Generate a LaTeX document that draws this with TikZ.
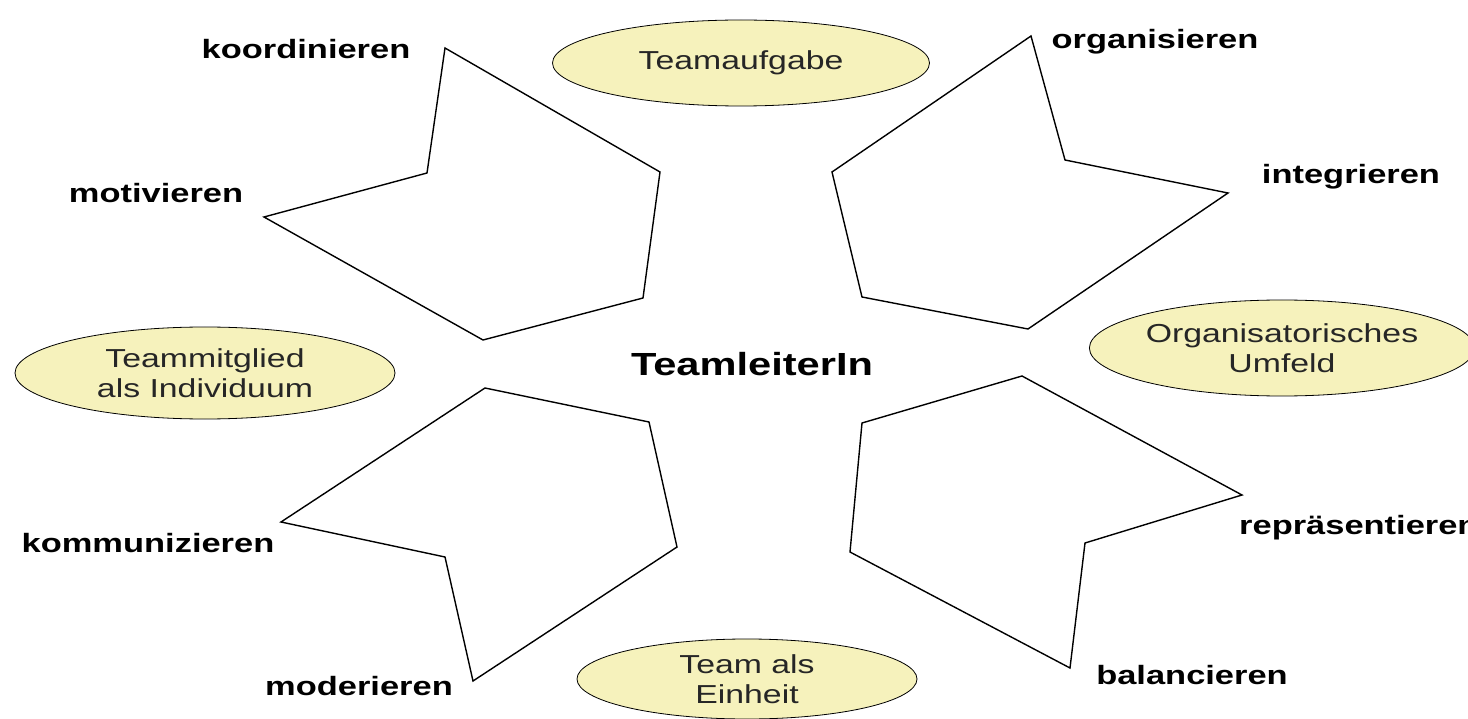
\documentclass[tikz,border=0pt]{standalone}
\usepackage{fontspec}
\setmainfont{Liberation Sans}
\newfontfamily\breit[FakeStretch=1.3]{Liberation Sans}
\usetikzlibrary{shapes.geometric}
\definecolor{ovalgelb}{RGB}{246,242,188}
\tikzset{
  oval/.style={ellipse, draw, line width=0.8pt, fill=ovalgelb, inner sep=0pt,
    align=center, text=black!85, font=\breit\fontsize{26}{30}\selectfont},
  taetig/.style={anchor=base, inner sep=0pt, font=\breit\bfseries\fontsize{26.5}{30}\selectfont},
  vieleck/.style={draw, line width=1.4pt, fill=white}
}

\begin{document}
\begin{tikzpicture}[x=1pt,y=-1pt]
    \useasboundingbox[fill=white] (0,0) rectangle (1468,719);
    %%Vielecke
    \draw[vieleck] (445,48) -- (660,172) -- (643,298) -- (483,340) -- (264,217) -- (427,173) -- cycle;
    \draw[vieleck] (1031,36) -- (1065,160) -- (1228,193) -- (1028,329) -- (862,297) -- (832,172) -- cycle;
    \draw[vieleck] (485,388) -- (649,422) -- (677,547) -- (473,681) -- (445,557) -- (281,522) -- cycle;
    \draw[vieleck] (1022,376) -- (1242,495) -- (1085,543) -- (1070,668) -- (850,552) -- (862,423) -- cycle;
    %%Ovale
    \node[oval, minimum width=377, minimum height=86] (aufgabe) at (741,63) {Teamaufgabe};
    \node[oval, minimum width=380, minimum height=92] (mitglied) at (205,373) {Teammitglied\\als Individuum};
    \node[oval, minimum width=369, minimum height=96] (umfeld) at (1282,348) {Organisatorisches\\Umfeld};
    \node[oval, minimum width=340, minimum height=80] (einheit) at (747,679) {Team als\\Einheit};
    %%Mitte
    \node[taetig, font=\breit\bfseries\fontsize{32}{36}\selectfont] (leiter) at (752,376) {TeamleiterIn};
    %%Taetigkeiten
    \node[taetig] (koord) at (306,59) {koordinieren};
    \node[taetig] (organ) at (1155,49) {organisieren};
    \node[taetig] (motiv) at (156,203) {motivieren};
    \node[taetig] (integ) at (1351,184) {integrieren};
    \node[taetig] (kommu) at (148,552) {kommunizieren};
    \node[taetig, anchor=base west] (repra) at (1239,534) {repräsentieren};
    \node[taetig] (moder) at (359,695) {moderieren};
    \node[taetig] (balan) at (1192,684) {balancieren};
\end{tikzpicture}
\end{document}
